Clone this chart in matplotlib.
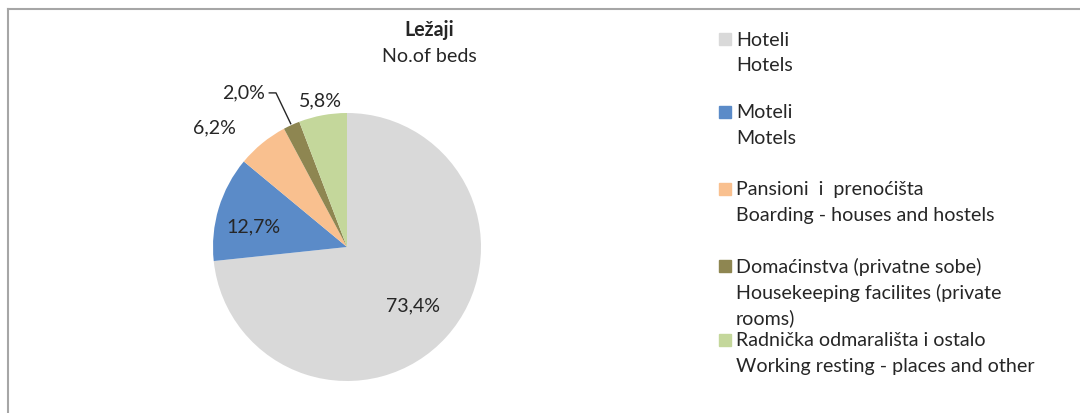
import matplotlib
matplotlib.use("Agg")
import matplotlib.pyplot as plt
from matplotlib.patches import Rectangle
from matplotlib.lines import Line2D

plt.rcParams['font.family'] = ['Lato', 'DejaVu Sans']

# Data
categories = ["Hoteli\nHotels",
              "Moteli\nMotels",
              "Pansioni  i  prenoćišta\nBoarding - houses and hostels",
              "Domaćinstva (privatne sobe)\nHousekeeping facilites (private\nrooms)",
              "Radnička odmarališta i ostalo\nWorking resting - places and other"]
values = [73.4, 12.7, 6.2, 2.0, 5.8]
value_labels = ["73,4%", "12,7%", "6,2%", "2,0%", "5,8%"]
title_main = "Ležaji"
title_sub = "No.of beds"

colors = ["#d9d9d9", "#5b8bc8", "#f9c08f", "#8e8651", "#c4d79b"]

W, H = 1080, 414
FS = 14.1
fig = plt.figure(figsize=(W / 100, H / 100), dpi=100)

# chart border (top + left visible)
fig.add_artist(Line2D([8 / W, 1.0], [1 - 10 / H, 1 - 10 / H], color="#a6a6a6", lw=1.5))
fig.add_artist(Line2D([8 / W, 8 / W], [0, 1 - 10 / H], color="#a6a6a6", lw=1.5))

cx, cy, r = 347, 248, 134
ax = fig.add_axes([(cx - r) / W, (H - cy - r) / H, 2 * r / W, 2 * r / H])
wedges, _ = ax.pie(values, colors=colors, startangle=90, counterclock=False,
                   radius=1.0, wedgeprops=dict(linewidth=0))
ax.set_xlim(-1, 1)
ax.set_ylim(-1, 1)
ax.set_aspect("auto")
ax.axis("off")

# label positions (data coords of the pie axes)
label_pos = [(0.49, -0.43), (-0.70, 0.16), (-0.99, 0.90), (-0.77, 1.16), (-0.20, 1.10)]
for (x, y), t in zip(label_pos, value_labels):
    ax.text(x, y, t, ha="center", va="center", fontsize=FS, color="#262626", clip_on=False)

# leader line for 2,0%
ax.plot([-0.58, -0.53, -0.42], [1.15, 1.15, 0.92], color="#262626", lw=1, clip_on=False)

# title
fig.text(429 / W, 1 - 30 / H, title_main, ha="center", va="center", fontsize=FS,
         fontweight="bold", color="#262626")
fig.text(429 / W, 1 - 57 / H, title_sub, ha="center", va="center", fontsize=FS,
         color="#262626")

# legend
entry_y = [40, 113, 190, 267, 341]
line_h = 25.5
for lab, col, y0 in zip(categories, colors, entry_y):
    fig.add_artist(Rectangle((719 / W, 1 - (y0 + 6) / H), 12 / W, 12 / H, color=col,
                             transform=fig.transFigure))
    for i, line in enumerate(lab.split("\n")):
        fig.text(736 / W, 1 - (y0 + i * line_h) / H, line, ha="left", va="center",
                 fontsize=FS, color="#262626")

fig.savefig("out.png", dpi=100)
